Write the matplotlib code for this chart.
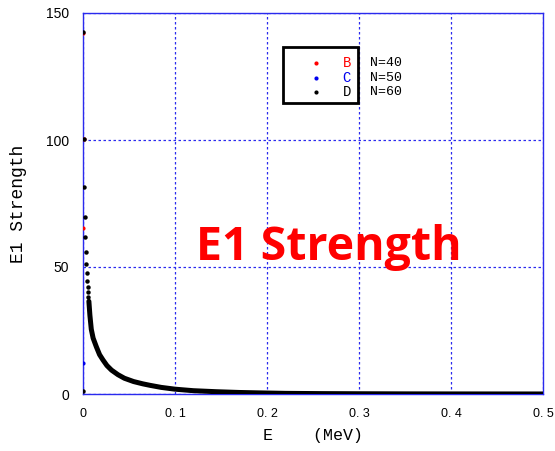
import matplotlib
matplotlib.use("Agg")
import matplotlib.pyplot as plt
from matplotlib.patches import Rectangle

# E1 strength distributions (E in MeV)
# D (N=60): isolated low-energy states, then the dense quasi-continuum
d_head_e = [0.0, 0.0005, 0.0009, 0.0014, 0.0019, 0.0024, 0.0029, 0.0034,
            0.0039, 0.0044, 0.0049, 0.0054, 0.0059]
d_head_s = [1.0, 142.5, 100.4, 81.5, 69.7, 62.0, 56.0, 51.2,
            47.6, 44.6, 42.3, 40.0, 38.1]
d_tail_e = [0.0064, 0.0075, 0.009, 0.011, 0.0145, 0.018, 0.0217, 0.026,
            0.031, 0.038, 0.045, 0.055, 0.065, 0.073, 0.085, 0.10, 0.12,
            0.145, 0.17, 0.19, 0.22, 0.26, 0.30, 0.35, 0.40, 0.45, 0.50]
d_tail_s = [36.5, 31.0, 25.5, 22.0, 18.6, 15.5, 13.4, 11.2,
            9.4, 7.6, 6.2, 4.9, 4.0, 3.4, 2.6, 1.9, 1.3,
            0.9, 0.6, 0.45, 0.25, 0.15, 0.10, 0.05, 0.03, 0.02, 0.01]

# B (N=40) and C (N=50)
b_e = [0.0, 0.0004, 0.0008]
b_s = [65.5, 142.3, 100.2]
c_e = [0.0]
c_s = [12.3]

x_ticks = [0, 0.1, 0.2, 0.3, 0.4, 0.5]
x_tick_labels = ["0", "0. 1", "0. 2", "0. 3", "0. 4", "0. 5"]
y_ticks = [0, 50, 100, 150]
y_tick_labels = ["0", "50", "100", "150"]

series_names = ["B", "C", "D"]
series_colors = ["#ff0000", "#0000ee", "#000000"]
series_n = ["N=40", "N=50", "N=60"]

mono = ["Liberation Mono", "DejaVu Sans Mono"]
sans = ["Liberation Sans", "DejaVu Sans"]
grid_blue = "#2a2aee"

fig = plt.figure(figsize=(5.55, 4.51), dpi=100)
ax = fig.add_axes([83 / 555, 1 - 394 / 451, 460 / 555, 381 / 451])

ax.plot(b_e, b_s, "o", color=series_colors[0], ms=3, mec="none", zorder=3)
ax.plot(c_e, c_s, "o", color=series_colors[1], ms=3, mec="none", zorder=3)
ax.plot(d_tail_e, d_tail_s, "-", color=series_colors[2], lw=3.6,
        solid_capstyle="round", solid_joinstyle="round", zorder=4)
ax.plot(d_head_e, d_head_s, "o", color=series_colors[2], ms=3.2, mec="none", zorder=4)

ax.set_xlim(0, 0.5)
ax.set_ylim(0, 150)
ax.set_xticks(x_ticks)
ax.set_xticklabels(x_tick_labels, family=sans, fontsize=9)
ax.set_yticks(y_ticks)
ax.set_yticklabels(y_tick_labels, family=sans, fontsize=10)
ax.tick_params(axis="x", length=0, pad=10)
ax.tick_params(axis="y", length=0, pad=10)

ax.grid(True, color=grid_blue, linestyle=(0, (2, 2)), linewidth=0.9)
ax.set_axisbelow(True)
for side, sp in ax.spines.items():
    sp.set_color(grid_blue)
    sp.set_linewidth(1.0)
    if side != "right":
        sp.set_linestyle((0, (2, 1)))

ax.set_xlabel("E    (MeV)", family=mono, fontsize=12, labelpad=6)
ax.set_ylabel("E1 Strength", family=mono, fontsize=13, labelpad=14)

# Legend box: dot and coloured series name inside, N value to the right
ax.add_patch(Rectangle((0.4348, 0.7638), 0.163, 0.147, transform=ax.transAxes,
                       fill=False, ec="black", lw=2, clip_on=False, zorder=7))
rows_y = [0.868, 0.830, 0.7934]
for name, col, n, yy in zip(series_names, series_colors, series_n, rows_y):
    ax.plot([0.5065], [yy], "o", color=col, ms=3, mec="none",
            transform=ax.transAxes, clip_on=False, zorder=8)
    ax.text(0.573, yy, name, color=col, transform=ax.transAxes, ha="center",
            va="center", family=mono, fontsize=10, zorder=8)
    ax.text(0.624, yy, n, color="black", transform=ax.transAxes, ha="left",
            va="center", family=mono, fontsize=9.5, zorder=8)

ax.text(0.534, 0.3517, "E1 Strength", transform=ax.transAxes, ha="center",
        va="baseline", color="#ff0000", fontsize=33.5, fontweight="bold",
        family=["Open Sans", "DejaVu Sans"], zorder=6)

fig.savefig("out.png", dpi=100, facecolor="white")
